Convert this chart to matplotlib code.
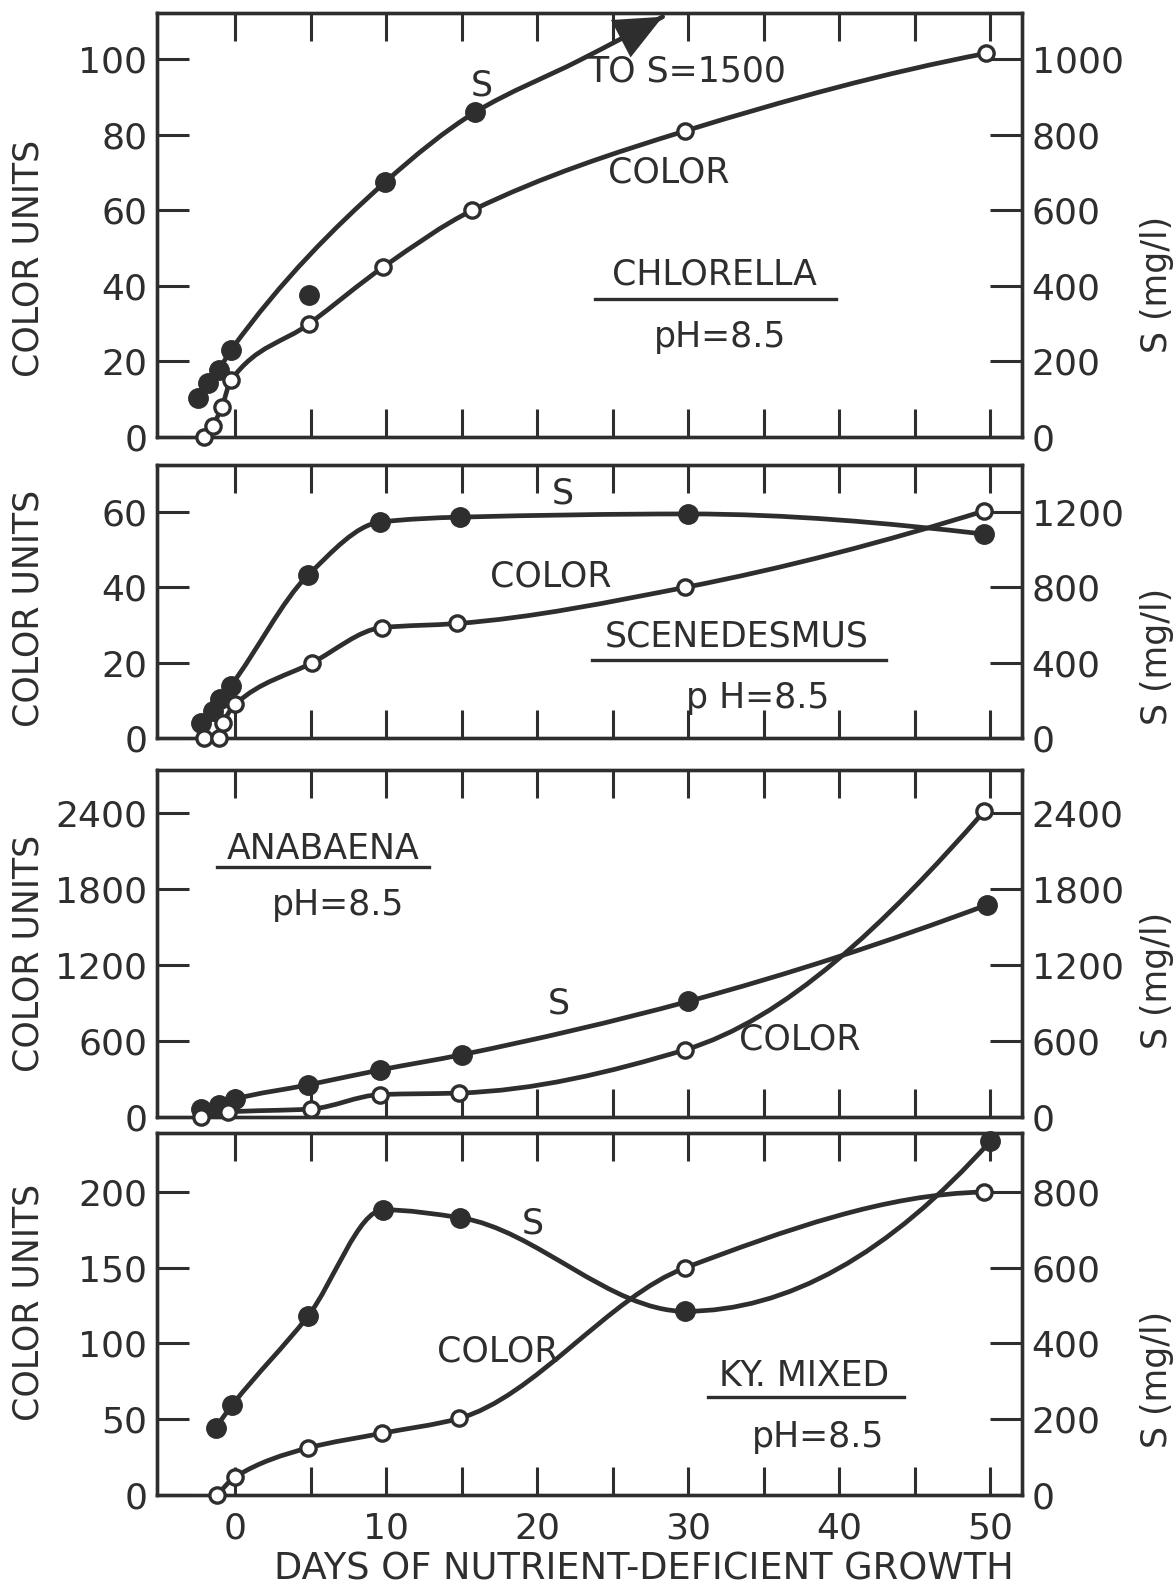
import numpy as np
import matplotlib
matplotlib.use("Agg")
import matplotlib.pyplot as plt
from matplotlib.path import Path
from matplotlib.patches import PathPatch

# --- data (days, colour units, S in mg/l) ---
chl_c_days = [-2.1, -1.5, -0.9, -0.3, 4.9, 9.8, 15.7, 29.8, 49.7]
chl_color = [0, 3, 8, 15, 30, 45, 60, 81, 101.5]
chl_s_days = [-2.5, -1.8, -1.1, -0.3, 9.9, 15.9]
chl_s = [103, 143, 178, 230, 674, 860]
chl_s_stray_day = [4.9]
chl_s_stray = [377]
chl_s_arrow_days = [22.8, 28.3]   # trace continues off scale "TO S=1500"
chl_s_arrow = [997, 1112]

sce_c_days = [-2.1, -1.1, -0.8, 0.0, 5.1, 9.7, 14.7, 29.8, 49.6]
sce_color = [0, 0, 4, 9, 20, 29.3, 30.4, 40, 60.3]
sce_s_days = [-2.3, -1.5, -1.0, -0.3, 4.8, 9.6, 14.9, 30.0, 49.6]
sce_s = [80, 144, 208, 278, 864, 1147, 1173, 1190, 1083]

ana_c_days = [-2.3, -0.5, 5.0, 9.6, 14.8, 29.8, 49.6]
ana_color = [0, 40, 64, 178, 190, 532, 2416]
ana_s_days = [-2.3, -1.1, 0.0, 4.8, 9.6, 15.0, 30.0, 49.8]
ana_s = [64, 95, 143, 254, 373, 493, 914, 1677]

ky_c_days = [-1.2, 0.0, 4.8, 9.7, 14.8, 29.8, 49.6]
ky_color = [0, 12, 31, 40.7, 50.5, 150, 200]
ky_s_days = [-1.3, -0.2, 4.8, 9.8, 14.9, 29.8, 50.0]
ky_s = [178, 238, 472, 753, 732, 485, 934]

left_ticks = [[0, 20, 40, 60, 80, 100], [0, 20, 40, 60], [0, 600, 1200, 1800, 2400],
              [0, 50, 100, 150, 200]]
right_ticks = [[0, 200, 400, 600, 800, 1000], [0, 400, 800, 1200], [0, 600, 1200, 1800, 2400],
               [0, 200, 400, 600, 800]]
left_top = [112.2, 72.5, 2742, 239]
s_factor = [10, 20, 1, 4]
day_ticks = [0, 10, 20, 30, 40, 50]

INK = "#2e2e2e"
plt.rcParams["font.family"] = ["DejaVu Sans"]


def slopes(x, y):
    # shape-preserving (pchip style) tangents so the drawn curve does not wiggle
    h = np.diff(x)
    d = np.diff(y) / h
    n = len(x)
    m = np.zeros(n)
    for k in range(1, n - 1):
        if d[k - 1] * d[k] > 0:
            w1 = 2 * h[k] + h[k - 1]
            w2 = h[k] + 2 * h[k - 1]
            m[k] = (w1 + w2) / (w1 / d[k - 1] + w2 / d[k])
    if n == 2:
        m[0] = m[1] = d[0]
        return m
    for end, (h0, h1, d0, d1) in ((0, (h[0], h[1], d[0], d[1])),
                                  (n - 1, (h[-1], h[-2], d[-1], d[-2]))):
        v = ((2 * h0 + h1) * d0 - h0 * d1) / (h0 + h1)
        if v * d0 <= 0:
            v = 0.0
        elif d0 * d1 < 0 and abs(v) > abs(3 * d0):
            v = 3 * d0
        m[end] = v
    return m


def smooth_path(x, y):
    x = np.asarray(x, float)
    y = np.asarray(y, float)
    m = slopes(x, y)
    verts = [(x[0], y[0])]
    codes = [Path.MOVETO]
    for i in range(len(x) - 1):
        h = x[i + 1] - x[i]
        verts += [(x[i] + h / 3, y[i] + m[i] * h / 3),
                  (x[i + 1] - h / 3, y[i + 1] - m[i + 1] * h / 3),
                  (x[i + 1], y[i + 1])]
        codes += [Path.CURVE4] * 3
    return Path(verts, codes)


def draw_line(ax, x, y):
    ax.add_patch(PathPatch(smooth_path(x, y), fill=False, ec=INK, lw=3.4,
                           capstyle="round", joinstyle="round", clip_on=False, zorder=3))


def dots(ax, x, y, open_marker):
    if open_marker:
        ax.plot(x, y, "o", ms=11, mfc="white", mec=INK, mew=2.4, clip_on=False, zorder=4)
    else:
        ax.plot(x, y, "o", ms=14, mfc=INK, mec=INK, clip_on=False, zorder=4)


fig = plt.figure(figsize=(11.73, 15.87), dpi=100)
boxes = [(0.7246, 0.2672), (0.5350, 0.1720), (0.2961, 0.2187), (0.0580, 0.2281)]
panels = [
    (chl_c_days, chl_color, chl_s_days, chl_s),
    (sce_c_days, sce_color, sce_s_days, sce_s),
    (ana_c_days, ana_color, ana_s_days, ana_s),
    (ky_c_days, ky_color, ky_s_days, ky_s),
]
axes = []
for k, (bottom, height) in enumerate(boxes):
    ax = fig.add_axes([0.1338, bottom, 0.7374, height])
    ax2 = ax.twinx()
    ax.set_xlim(-5.2, 52.1)
    ax.set_ylim(0, left_top[k])
    ax2.set_ylim(0, left_top[k] * s_factor[k])
    ax.set_xticks(day_ticks)
    ax.set_xticks([5, 15, 25, 35, 45], minor=True)
    ax.set_yticks(left_ticks[k])
    ax2.set_yticks(right_ticks[k])
    ax.tick_params(axis="x", which="both", direction="in", top=True, bottom=True,
                   length=20, width=2.2, color=INK, labelsize=26, labelcolor=INK, pad=12,
                   labelbottom=(k == 3))
    ax.tick_params(axis="y", direction="in", length=23, width=2.2, color=INK,
                   labelsize=26, labelcolor=INK, pad=7)
    ax2.tick_params(axis="y", direction="in", length=23, width=2.2, color=INK,
                    labelsize=26, labelcolor=INK, pad=7)
    for a in (ax, ax2):
        for sp in a.spines.values():
            sp.set_linewidth(2.4)
            sp.set_color(INK)
    cd, cv, sd, sv = panels[k]
    cv_right = np.asarray(cv) * s_factor[k]
    if k == 0:
        draw_line(ax2, list(sd) + chl_s_arrow_days, list(sv) + chl_s_arrow)
        dots(ax2, sd, sv, False)
        dots(ax2, chl_s_stray_day, chl_s_stray, False)
        tip_d, tip_s = chl_s_arrow_days[-1], chl_s_arrow[-1]
        back = 4.5
        slope = (chl_s_arrow[-1] - chl_s_arrow[-2]) / (chl_s_arrow_days[-1] - chl_s_arrow_days[-2])
        ax2.annotate("", xy=(tip_d, tip_s), xytext=(tip_d - back, tip_s - slope * back),
                     arrowprops=dict(arrowstyle="-|>,head_length=0.85,head_width=0.38",
                                     mutation_scale=40, fc=INK, ec=INK, lw=0.01,
                                     shrinkA=0, shrinkB=0),
                     annotation_clip=False, zorder=5)
    else:
        draw_line(ax2, sd, sv)
        dots(ax2, sd, sv, False)
    draw_line(ax2, cd, cv_right)
    dots(ax2, cd, cv_right, True)
    axes.append(ax)

txt = dict(color=INK, fontsize=25, ha="center", va="center")
a1, a2, a3, a4 = axes
a1.text(16.3, 92.9, "S", **txt)
a1.text(29.9, 96.8, "TO S=1500", **txt)
a1.text(28.7, 70.1, "COLOR", **txt)
a1.text(31.7, 42.9, "CHLORELLA", **txt)
a1.plot([23.8, 39.8], [36.5, 36.5], color=INK, lw=2.4)
a1.text(32.1, 26.5, "pH=8.5", **txt)

a2.text(21.7, 64.8, "S", **txt)
a2.text(20.9, 42.9, "COLOR", **txt)
a2.text(33.2, 26.9, "SCENEDESMUS", **txt)
a2.plot([23.6, 43.1], [20.8, 20.8], color=INK, lw=2.4)
a2.text(34.6, 10.7, "p H=8.5", **txt)

a3.text(5.8, 2116, "ANABAENA", **txt)
a3.plot([-1.2, 12.8], [1974, 1974], color=INK, lw=2.4)
a3.text(6.8, 1672, "pH=8.5", **txt)
a3.text(21.4, 896, "S", **txt)
a3.text(37.4, 610, "COLOR", **txt)

a4.text(19.7, 178.9, "S", **txt)
a4.text(17.4, 95, "COLOR", **txt)
a4.text(37.7, 78.5, "KY. MIXED", **txt)
a4.plot([31.3, 44.3], [64.7, 64.7], color=INK, lw=2.4)
a4.text(38.6, 38.3, "pH=8.5", **txt)

# axis titles
for yc_left, yc_right in [(258, 284), (608, 656), (953, 980), (1302, 1379)]:
    fig.text(0.024, 1 - yc_left / 1587, "COLOR UNITS", rotation=90, **txt)
    fig.text(0.986, 1 - yc_right / 1587, "S (mg/l)", rotation=90, **txt)
fig.text(0.549, 0.0113, "DAYS OF NUTRIENT-DEFICIENT GROWTH",
         **{**txt, "fontsize": 26.5})

fig.savefig("out.png", dpi=100, facecolor="white")
